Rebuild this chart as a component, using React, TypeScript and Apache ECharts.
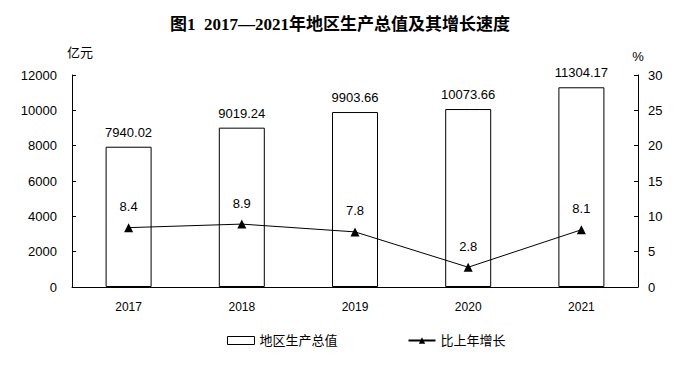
import React, { useEffect, useRef } from "react";
import * as echarts from "echarts";

const years = ["2017", "2018", "2019", "2020", "2021"];
const gdp = [7940.02, 9019.24, 9903.66, 10073.66, 11304.17];
const growth = [8.4, 8.9, 7.8, 2.8, 8.1];
const title = "图1  2017—2021年地区生产总值及其增长速度";
const leftUnit = "亿元";
const rightUnit = "%";
const barName = "地区生产总值";
const lineName = "比上年增长";

const FONT = "Arial, 'Liberation Sans', 'Noto Sans CJK SC', sans-serif";

export default function App() {
  const ref = useRef<HTMLDivElement>(null);
  useEffect(() => {
    if (!ref.current) return;
    const chart = echarts.init(ref.current, null, { renderer: "svg" });
    chart.setOption({
      animation: false,
      backgroundColor: "#ffffff",
      title: {
        text: title,
        left: 165,
        top: 11,
        textStyle: {
          fontFamily: "'Liberation Serif', 'Times New Roman', 'Noto Sans CJK SC', serif",
          fontWeight: "bold",
          fontSize: 17,
          color: "#000",
        },
      },
      grid: { left: 72, right: 58, top: 75, bottom: 81 },
      legend: {
        bottom: 16,
        left: 222,
        itemGap: 70,
        itemWidth: 27,
        itemHeight: 8,
        textStyle: { fontFamily: FONT, fontSize: 13, color: "#000" },
        data: [
          { name: barName, icon: "rect", itemStyle: { color: "#fff", borderColor: "#000", borderWidth: 1 } },
          { name: lineName },
        ],
      },
      xAxis: {
        type: "category",
        data: years,
        axisLine: { lineStyle: { color: "#000", width: 1 } },
        axisTick: { inside: true, length: 5, lineStyle: { color: "#000" } },
        axisLabel: { color: "#000", fontFamily: FONT, fontSize: 12, margin: 14 },
        z: 10,
      },
      yAxis: [
        {
          type: "value",
          min: 0,
          max: 12000,
          interval: 2000,
          name: "",
          axisLine: { show: true, lineStyle: { color: "#000" } },
          axisTick: { show: true, inside: true, length: 4, lineStyle: { color: "#000" } },
          axisLabel: {
            color: "#000",
            fontFamily: FONT,
            fontSize: 13,
            margin: 15,
            formatter: (v: number) => String(v),
          },
          splitLine: { show: false },
        },
        {
          type: "value",
          min: 0,
          max: 30,
          interval: 5,
          name: rightUnit,
          nameGap: 12,
          nameTextStyle: { color: "#000", fontFamily: FONT, fontSize: 13 },
          axisLine: { show: true, lineStyle: { color: "#000" } },
          axisTick: { show: true, inside: true, length: 4, lineStyle: { color: "#000" } },
          axisLabel: { color: "#000", fontFamily: FONT, fontSize: 13, margin: 10 },
          splitLine: { show: false },
        },
      ],
      graphic: [
        {
          type: "text",
          left: 67,
          top: 45,
          style: { text: leftUnit, fill: "#000", font: "13px 'Noto Sans CJK SC', sans-serif" },
        },
      ],
      series: [
        {
          name: barName,
          type: "bar",
          data: gdp,
          barWidth: 46,
          itemStyle: { color: "#ffffff", borderColor: "#000", borderWidth: 1 },
          label: {
            show: true,
            position: "top",
            distance: 8,
            color: "#000",
            fontFamily: FONT,
            fontSize: 13,
            formatter: (p: any) => p.value.toFixed(2),
          },
        },
        {
          name: lineName,
          type: "line",
          yAxisIndex: 1,
          data: growth,
          symbol: "triangle",
          symbolSize: 9,
          lineStyle: { color: "#000", width: 1 },
          itemStyle: { color: "#000" },
          label: {
            show: true,
            position: "top",
            distance: 10,
            color: "#000",
            fontFamily: FONT,
            fontSize: 13,
          },
        },
      ],
    });
    return () => chart.dispose();
  }, []);
  return <div ref={ref} style={{ width: 696, height: 368, margin: -8 }} />;
}
